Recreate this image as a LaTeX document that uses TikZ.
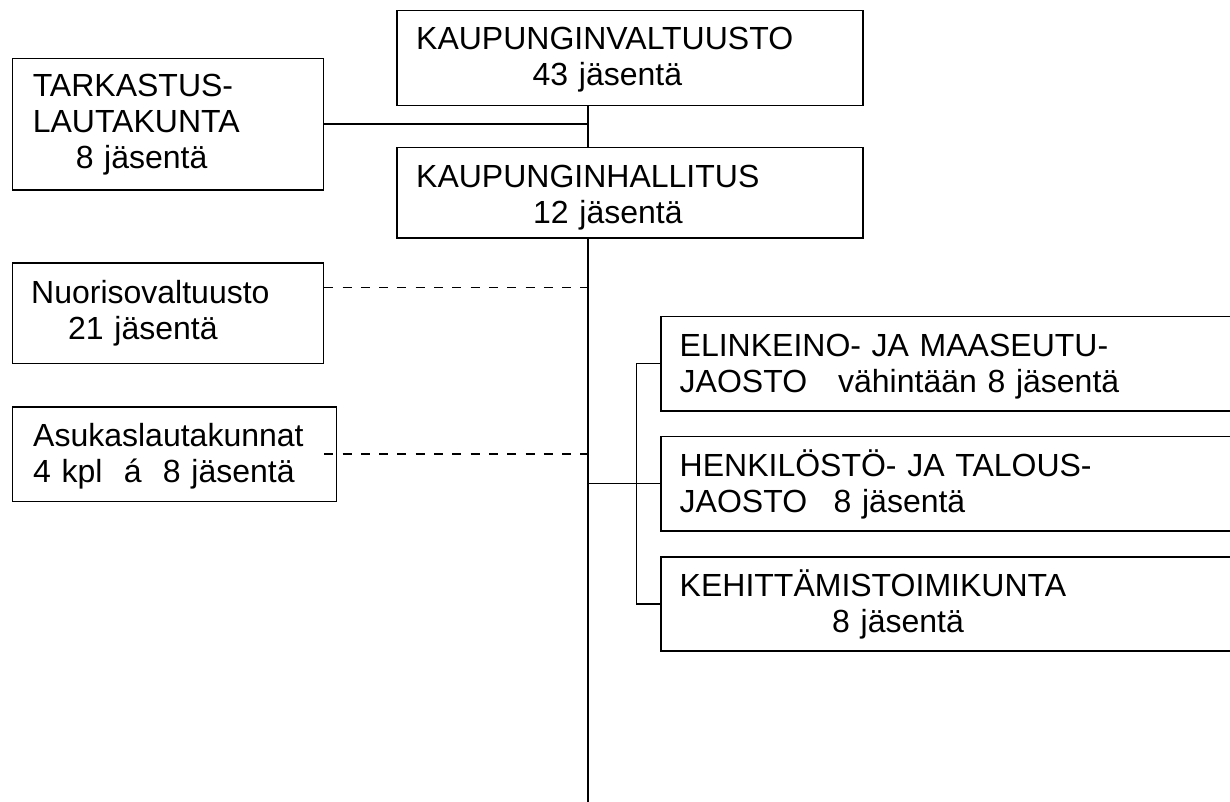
\documentclass[tikz,border=0pt]{standalone}
\usepackage{fontspec}
\setmainfont{Liberation Sans}
\usetikzlibrary{calc}

\begin{document}
\begin{tikzpicture}[
	x=1pt,y=-1pt,
	box/.style={draw,rectangle,inner sep=0,anchor=north west,line width=1.5pt},
	txt/.style={anchor=base west,inner sep=0,align=left,text width=460pt,
		font=\fontsize{32}{35.8}\selectfont},
	link/.style={line width=1.5pt},
	loose/.style={line width=1.5pt,dash pattern=on 9pt off 9.3pt}]
	\fill[white] (0,0) rectangle (1230,802);
	\useasboundingbox (0,0) rectangle (1230,802);
	\clip (0,0) rectangle (1230,802);
	\node[box,minimum width=466pt,minimum height=94.7pt] (kv) at (396,10) {};
	\node[box,minimum width=466pt,minimum height=90.6pt] (kh) at (396,146.7) {};
	\node[box,minimum width=311pt,minimum height=131.6pt] (tark) at (11.7,57.7) {};
	\node[box,minimum width=311pt,minimum height=100.4pt] (nuor) at (11.7,262.3) {};
	\node[box,minimum width=324pt,minimum height=94.7pt] (asuk) at (11.7,406) {};
	\node[box,minimum width=600pt,minimum height=94.3pt] (ejaosto) at (660,315.7) {};
	\node[box,minimum width=600pt,minimum height=94.3pt] (hjaosto) at (660,435.7) {};
	\node[box,minimum width=600pt,minimum height=94pt] (kehit) at (660,556) {};
	\node[txt] (kv text) at (416,50) {KAUPUNGINVALTUUSTO\\\hspace*{116.5pt}43 jäsentä};
	\node[txt] (kh text) at (416,187.3) {KAUPUNGINHALLITUS\\\hspace*{117pt}12 jäsentä};
	\node[txt] (tark text) at (32.6,96.7) {TARKASTUS-\\LAUTAKUNTA\\\hspace*{43pt}8 jäsentä};
	\node[txt] (nuor text) at (31,303.3) {Nuorisovaltuusto\\\hspace*{37pt}21 jäsentä};
	\node[txt] (asuk text) at (33,446.7) {Asukaslautakunnat\\4 kpl~~á~~8 jäsentä};
	\node[txt] (ejaosto text) at (679.5,356.7) {ELINKEINO- JA MAASEUTU-\\JAOSTO\hspace{31pt}vähintään 8 jäsentä};
	\node[txt] (hjaosto text) at (679.5,476.7) {HENKILÖSTÖ- JA TALOUS-\\JAOSTO\hspace{26.5pt}8 jäsentä};
	\node[txt] (kehit text) at (679.5,596.7) {KEHITTÄMISTOIMIKUNTA\\\hspace*{152.5pt}8 jäsentä};
	\coordinate (trunk) at (588,802);
	\coordinate (fork) at (636.7,0);
	\draw[link] (kv.south -| trunk) -- (kh.north -| trunk);
	\draw[link] (kh.south -| trunk) -- (trunk);
	\draw[link] (tark.east) -- (tark.east -| trunk);
	\draw[loose] ([yshift=-25pt]nuor.north east) coordinate (nuor in) -- (nuor in -| trunk);
	\draw[loose] (asuk.east -| nuor.east) -- (asuk.east -| trunk);
	\draw[link] (hjaosto.west -| trunk) -- (hjaosto.west);
	\draw[link] (ejaosto.west) -- (ejaosto.west -| fork) -- (kehit.west -| fork) -- (kehit.west);
\end{tikzpicture}
\end{document}
